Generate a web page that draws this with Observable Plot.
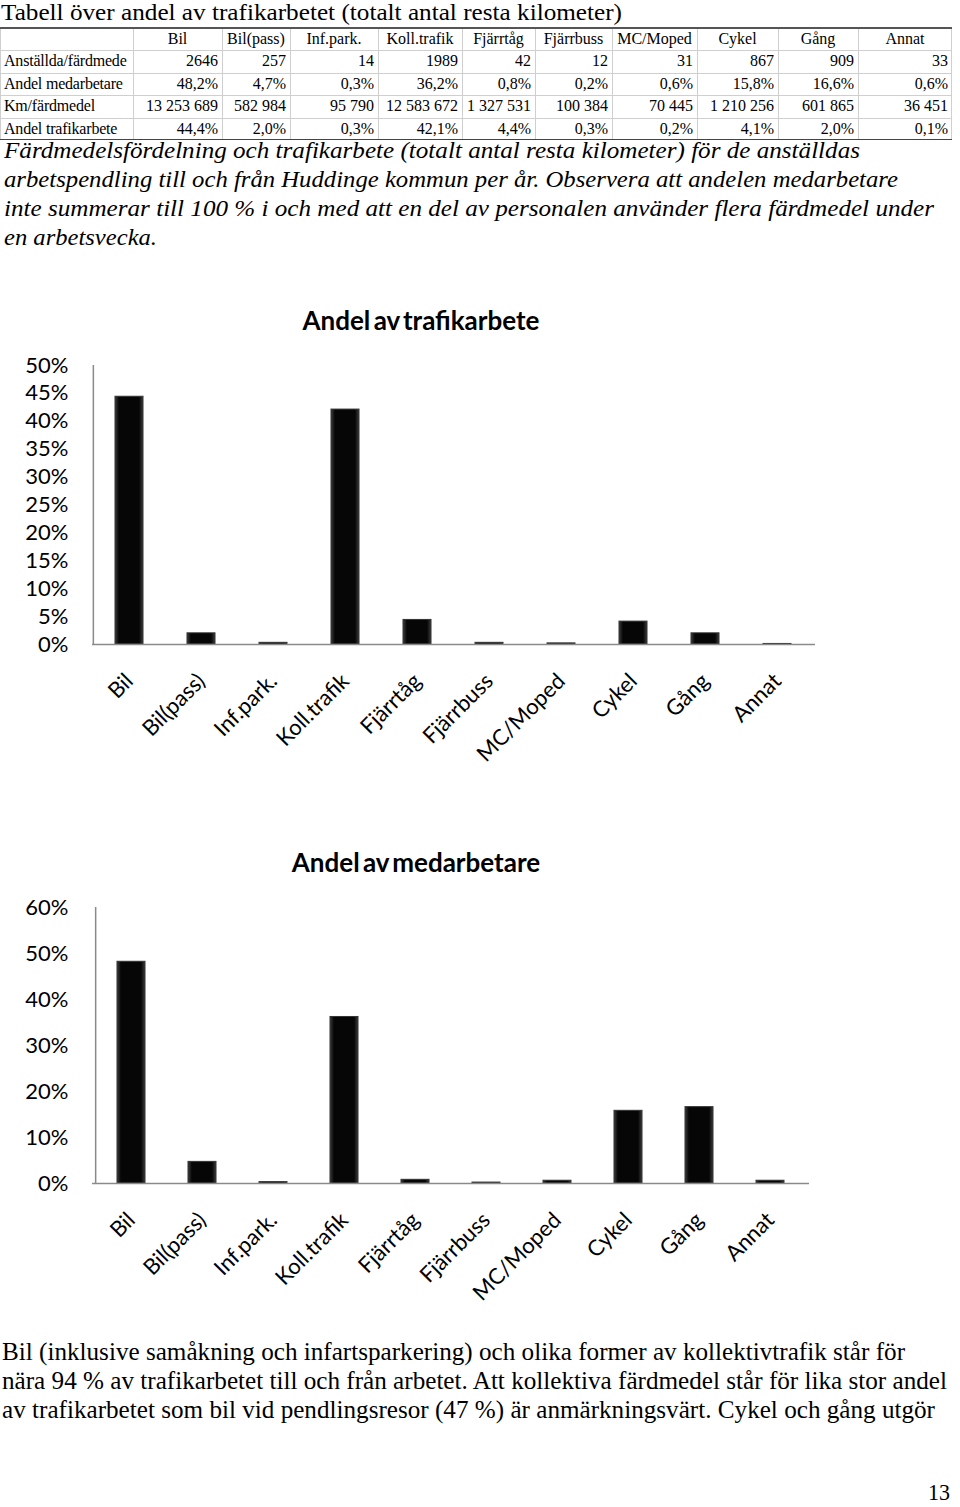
<!DOCTYPE html>
<html lang="sv">
<head>
<meta charset="utf-8">
<script src="https://cdn.jsdelivr.net/npm/d3@7"></script>
<script src="https://cdn.jsdelivr.net/npm/@observablehq/plot@0.6"></script>
<style>
html,body{margin:0;padding:0;background:#fff;}
body{position:relative;width:960px;height:1507px;overflow:hidden;font-family:"Liberation Serif","Times New Roman",serif;color:#000;}
.line{position:absolute;white-space:nowrap;transform-origin:0 0;line-height:normal;}
.cell{position:absolute;box-sizing:border-box;white-space:nowrap;font-size:16px;}
.hl{position:absolute;height:1px;background:#cfcfcf;}
.vl{position:absolute;width:1px;background:#cfcfcf;}
.ctitle{position:absolute;font-family:Lato,"Open Sans",sans-serif;font-weight:bold;font-size:26px;white-space:nowrap;transform:translate(-50%,-50%);word-spacing:-3px;}
.chart{position:absolute;left:0;}
</style>
</head>
<body>
<script>
// ---------- data ----------
const categories = ["Bil","Bil(pass)","Inf.park.","Koll.trafik","Fjärrtåg","Fjärrbuss","MC/Moped","Cykel","Gång","Annat"];
const rowLabels = ["Anställda/färdmede","Andel medarbetare","Km/färdmedel","Andel trafikarbete"];
const anstallda = [2646,257,14,1989,42,12,31,867,909,33];
const andelMedarbetare = [48.2,4.7,0.3,36.2,0.8,0.2,0.6,15.8,16.6,0.6];
const kmPerFardmedel = [13253689,582984,95790,12583672,1327531,100384,70445,1210256,601865,36451];
const andelTrafikarbete = [44.4,2.0,0.3,42.1,4.4,0.3,0.2,4.1,2.0,0.1];
const ticksTrafikarbete = [0,0.05,0.10,0.15,0.20,0.25,0.30,0.35,0.40,0.45,0.50];
const ticksMedarbetare = [0,0.10,0.20,0.30,0.40,0.50,0.60];

const tableTitle = "Tabell över andel av trafikarbetet (totalt antal resta kilometer)";
const captionLines = [
  "Färdmedelsfördelning och trafikarbete (totalt antal resta kilometer) för de anställdas",
  "arbetspendling till och från Huddinge kommun per år. Observera att andelen medarbetare",
  "inte summerar till 100 % i och med att en del av personalen använder flera färdmedel under",
  "en arbetsvecka."
];
const paragraphLines = [
  "Bil (inklusive samåkning och infartsparkering) och olika former av kollektivtrafik står för",
  "nära 94 % av trafikarbetet till och från arbetet. Att kollektiva färdmedel står för lika stor andel",
  "av trafikarbetet som bil vid pendlingsresor (47 %) är anmärkningsvärt. Cykel och gång utgör"
];

// ---------- helpers ----------
const body = document.body;
function textLine(txt, {left, baseline, size, end, italic=false}) {
  const el = document.createElement("div");
  el.className = "line";
  el.textContent = txt;
  el.style.fontSize = size + "px";
  if (italic) el.style.fontStyle = "italic";
  el.style.left = left + "px";
  el.style.top = (baseline - 0.891 * size) + "px";
  body.appendChild(el);
  const w = el.getBoundingClientRect().width;
  if (end) el.style.transform = `scaleX(${(end - left) / w})`;
  return el;
}
const fmtPct = v => v.toFixed(1).replace(".", ",") + "%";
const fmtKm = v => String(v).replace(/\B(?=(\d{3})+(?!\d))/g, " ");

// ---------- title ----------
textLine(tableTitle, {left: 1, baseline: 20, size: 23, end: 622});

// ---------- table ----------
const colX = [0,133,222,290,378,462,535,612,697,778,858,952];
const rowY = [27,50,72.5,95,117.5,139];
const rows = [
  ["", ...categories],
  [rowLabels[0], ...anstallda.map(String)],
  [rowLabels[1], ...andelMedarbetare.map(fmtPct)],
  [rowLabels[2], ...kmPerFardmedel.map(fmtKm)],
  [rowLabels[3], ...andelTrafikarbete.map(fmtPct)]
];
rows.forEach((row, r) => {
  row.forEach((txt, c) => {
    const el = document.createElement("div");
    el.className = "cell";
    el.textContent = txt;
    el.style.left = colX[c] + "px";
    el.style.width = (colX[c+1] - colX[c]) + "px";
    el.style.top = rowY[r] + "px";
    el.style.height = (rowY[r+1] - rowY[r]) + "px";
    el.style.lineHeight = (rowY[r+1] - rowY[r]) + "px";
    if (r === 0) el.style.textAlign = "center";
    else if (c === 0) { el.style.textAlign = "left"; el.style.paddingLeft = "4px"; el.style.letterSpacing = "-0.2px"; }
    else { el.style.textAlign = "right"; el.style.paddingRight = "4px"; }
    body.appendChild(el);
  });
});
for (let r = 1; r < rowY.length - 1; r++) {
  const l = document.createElement("div"); l.className = "hl";
  l.style.left = "0px"; l.style.width = "952px"; l.style.top = rowY[r] + "px"; body.appendChild(l);
}
colX.forEach(x => {
  const l = document.createElement("div"); l.className = "vl";
  l.style.left = Math.min(x, 951) + "px"; l.style.top = "27px"; l.style.height = "112px"; body.appendChild(l);
});
[[27,"#555"],[138.5,"#444"]].forEach(([y,col]) => {
  const l = document.createElement("div"); l.className = "hl";
  l.style.left = "0px"; l.style.width = "952px"; l.style.top = y + "px"; l.style.height = "1.5px"; l.style.background = col; body.appendChild(l);
});

// ---------- caption ----------
const capEnds = [860, 898, 934, 157];
captionLines.forEach((t, i) => textLine(t, {left: 4, baseline: 158 + 29 * i, size: 23, end: capEnds[i], italic: true}));

// ---------- charts ----------
function barChart({values, ticks, top, height, marginTop, marginBottom, marginRight, gradId, title, titleX, titleY}) {
  const data = categories.map((c, i) => ({kategori: c, andel: values[i] / 100}));
  const step = (960 - 92 - marginRight) / categories.length;
  const svg = Plot.plot({
    width: 960, height, marginLeft: 92, marginRight, marginTop, marginBottom,
    style: {fontFamily: "Lato, 'Open Sans', sans-serif", fontSize: "22px", color: "#000", background: "transparent", overflow: "visible"},
    x: {domain: categories, paddingInner: 0.61, paddingOuter: 0.305, label: null},
    y: {domain: [0, ticks[ticks.length - 1]], label: null},
    marks: [
      Plot.barY(data, {x: "kategori", y: "andel", fill: `url(#${gradId})`, stroke: "#333", strokeWidth: 1}),
      Plot.ruleY([0], {stroke: "#8a8a8a", strokeWidth: 1.5}),
      Plot.ruleX([categories[0]], {dx: -step / 2, stroke: "#8a8a8a", strokeWidth: 1.5}),
      Plot.axisY({ticks, tickFormat: d3.format(".0%"), tickSize: 0, tickPadding: 24, label: null}),
      Plot.axisX({tickRotate: -45, tickSize: 0, tickPadding: 33, label: null})
    ]
  });
  const defs = document.createElementNS("http://www.w3.org/2000/svg", "defs");
  defs.innerHTML = `<linearGradient id="${gradId}" x1="0" x2="1" y1="0" y2="0">
    <stop offset="0" stop-color="#3c3c3c"/><stop offset="0.14" stop-color="#060606"/>
    <stop offset="0.86" stop-color="#060606"/><stop offset="1" stop-color="#3c3c3c"/></linearGradient>`;
  svg.insertBefore(defs, svg.firstChild);
  const wrap = document.createElement("div");
  wrap.className = "chart";
  wrap.style.top = top + "px";
  wrap.appendChild(svg);
  body.appendChild(wrap);
  const t = document.createElement("div");
  t.className = "ctitle";
  t.textContent = title;
  t.style.left = titleX + "px";
  t.style.top = titleY + "px";
  body.appendChild(t);
}

barChart({values: andelTrafikarbete, ticks: ticksTrafikarbete, top: 340, height: 440,
  marginTop: 25, marginBottom: 136, marginRight: 145, gradId: "bevel1",
  title: "Andel av trafikarbete", titleX: 421, titleY: 320});
barChart({values: andelMedarbetare, ticks: ticksMedarbetare, top: 880, height: 440,
  marginTop: 27, marginBottom: 137, marginRight: 151, gradId: "bevel2",
  title: "Andel av medarbetare", titleX: 416, titleY: 862});

// ---------- paragraph ----------
const parEnds = [905, 947, 935];
paragraphLines.forEach((t, i) => textLine(t, {left: 2, baseline: 1360 + 29 * i, size: 26, end: parEnds[i]}));
textLine("13", {left: 928, baseline: 1500, size: 23, end: 950});
</script>
</body>
</html>
